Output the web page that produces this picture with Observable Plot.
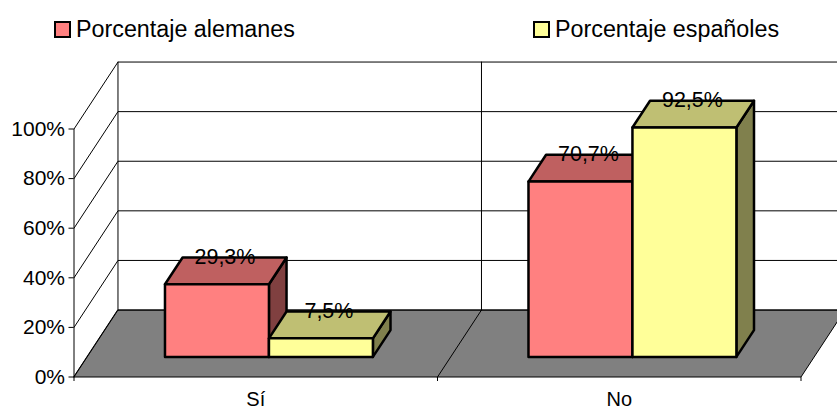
<!DOCTYPE html>
<html>
<head>
<meta charset="utf-8">
<script src="https://cdn.jsdelivr.net/npm/d3@7"></script>
<script src="https://cdn.jsdelivr.net/npm/@observablehq/plot@0.6"></script>
<style>
html,body{margin:0;padding:0;background:#fff;overflow:hidden}
#legend{position:relative;height:50px;width:837px;font-family:"Liberation Sans",Arial,sans-serif;font-size:23.3px;color:#000}
.item{position:absolute;top:15px;display:flex;align-items:center;white-space:nowrap;line-height:28px}
.sw{width:13px;height:13px;border:2px solid #000;margin-right:5px;display:inline-block}
svg{display:block}
</style>
</head>
<body>
<div id="legend"></div>
<div id="chart"></div>
<script>
const categories = ["Sí", "No"];
const seriesNames = ["Porcentaje alemanes", "Porcentaje españoles"];
const alemanes = [29.3, 70.7];
const espanoles = [7.5, 92.5];
const valueTicks = [0, 20, 40, 60, 80, 100];
const seriesValues = [alemanes, espanoles];

// colours: front, top, side for each series
const frontColors = ["#ff8080", "#ffff99"];
const topColors = ["#bf6060", "#bfbf73"];
const sideColors = ["#804040", "#80804d"];
const floorColor = "#808080";

// oblique 3D projection, in data units
const depthX = 0.121;   // category units per unit of depth
const depthY = 27;      // percent units per unit of depth
const barWidth = 0.286;
const barNear = 0.3, barFar = 0.7;
const P = (c, v, d) => ({x: c + d * depthX, y: v + d * depthY});

const faces = [];
const addFace = (id, color, pts) => pts.forEach(p => faces.push({id, color, ...P(...p)}));
addFace("floor", floorColor, [[0, 0, 0], [2, 0, 0], [2, 0, 1], [0, 0, 1]]);

const wire = [];
const addWire = (id, pts) => pts.forEach(p => wire.push({id, ...P(...p)}));
valueTicks.forEach(v => {
  addWire("wall" + v, [[0, v, 0], [0, v, 1], [2, v, 1]]);
});
addWire("leftFront", [[0, 0, 0], [0, 100, 0]]);
[0, 1, 2].forEach(c => addWire("back" + c, [[c, 0, 1], [c, 100, 1]]));
[1].forEach(c => addWire("floorDiv" + c, [[c, 0, 0], [c, 0, 1]]));

const bars = [];
const labels = [];
categories.forEach((cat, i) => {
  seriesValues.forEach((vals, s) => {
    const v = vals[i];
    const x0 = i + 0.5 + (s - 1) * barWidth, x1 = x0 + barWidth;
    const id = cat + s;
    const add = (k, color, pts) => pts.forEach(p => bars.push({id: id + k, color, ...P(...p)}));
    add("side", sideColors[s], [[x1, 0, barNear], [x1, 0, barFar], [x1, v, barFar], [x1, v, barNear]]);
    add("top", topColors[s], [[x0, v, barNear], [x1, v, barNear], [x1, v, barFar], [x0, v, barFar]]);
    add("front", frontColors[s], [[x0, 0, barNear], [x1, 0, barNear], [x1, v, barNear], [x0, v, barNear]]);
    const near = P((x0 + x1) / 2, v, barNear), far = P((x0 + x1) / 2, v, barFar);
    labels.push({x: near.x, y: far.y, text: v.toFixed(1).replace(".", ",") + "%"});
  });
});

const font = "'Liberation Sans', Arial, sans-serif";
const plot = Plot.plot({
  width: 837,
  height: 359,
  marginLeft: 73.5,
  marginRight: 36.5,
  marginTop: 0,
  marginBottom: 32,
  style: {fontFamily: font, fontSize: "21px", background: "#fff", color: "#000"},
  x: {type: "linear", domain: [0, 2], range: [73.5, 800.5]},
  y: {type: "linear", domain: [0, 100], range: [326.5, 78.5]},
  marks: [
    Plot.line(faces, {x: "x", y: "y", z: "id", fill: "color", stroke: "#000", strokeWidth: 1, curve: "linear-closed"}),
    Plot.line(wire, {x: "x", y: "y", z: "id", stroke: "#000", strokeWidth: 1}),
    Plot.line(bars, {x: "x", y: "y", z: "id", fill: "color", stroke: "#000", strokeWidth: 2.5, curve: "linear-closed", strokeLinejoin: "round"}),
    Plot.text(labels, {x: "x", y: "y", text: "text", dx: 8, dy: -0.5, fontSize: 21.5, fill: "#000", lineAnchor: "middle"}),
    Plot.axisY({ticks: valueTicks, tickSize: 5, tickPadding: 4, tickFormat: d => d + "%", fontSize: 21, label: null}),
    Plot.axisX({ticks: [0, 1, 2], tickSize: 4, tickFormat: () => "", label: null}),
    Plot.axisX({ticks: [0.5, 1.5], tickSize: 0, tickPadding: 14, fontSize: 20, tickFormat: d => categories[Math.floor(d)], label: null})
  ]
});
document.getElementById("chart").append(plot);

const legend = d3.select("#legend");
const legendLeft = [54, 533];
seriesNames.forEach((name, s) => {
  const item = legend.append("div").attr("class", "item").style("left", legendLeft[s] + "px");
  item.append("span").attr("class", "sw").style("background", frontColors[s]);
  item.append("span").text(name);
});
</script>
</body>
</html>
